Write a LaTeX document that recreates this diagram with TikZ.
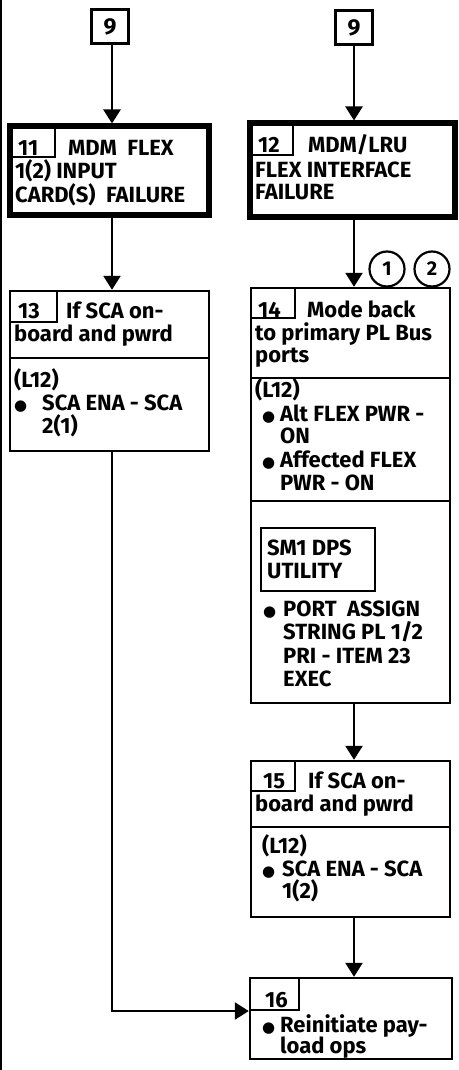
\documentclass[tikz,border=0pt]{standalone}
\usepackage{fontspec}
\setmainfont{Fira Sans}
\newfontfamily\dejavu{DejaVu Sans}
\usetikzlibrary{arrows.meta}
\newcommand\bul{{\dejavu\fontsize{15}{15}\selectfont ●}}
\begin{document}
\begin{tikzpicture}[x=1pt,y=-1pt,
  thinbox/.style={draw, line width=2.4pt, inner sep=0pt},
  thickbox/.style={draw, line width=6pt, inner sep=0pt},
  numline/.style={line width=1.8pt},
  divline/.style={line width=2.4pt},
  txt/.style={anchor=base west, inner sep=0pt, font=\fontsize{22}{23}\selectfont\bfseries},
  bultxt/.style={anchor=base west, inner sep=0pt},
  flow/.style={line width=2.4pt, -{Triangle[length=14pt,width=17pt]}},
  circ/.style={draw, circle, line width=2.2pt, minimum size=35pt, inner sep=0pt, font=\fontsize{20}{20}\selectfont\bfseries},
  refbox/.style={draw, line width=3.4pt, inner sep=0pt, minimum width=37pt, minimum height=34pt, font=\fontsize{23}{23}\selectfont\bfseries},
]
\useasboundingbox (0,0) rectangle (458,1070);
\draw[line width=2pt] (1,0) -- (1,1070);

\coordinate (colL) at (112,0);
\coordinate (colR) at (354,0);

% reference boxes
\node[refbox] (n9L) at (110,26.5) {9};
\node[refbox] (n9R) at (354,27.5) {9};

% main boxes
\node[thickbox, minimum width=199pt, minimum height=88.5pt] (b11) at (109.5,170.75) {};
\node[thickbox, minimum width=205pt, minimum height=93.5pt] (b12) at (352.5,170.25) {};
\node[thinbox, minimum width=199pt, minimum height=160pt] (b13) at (109.5,371) {};
\node[thinbox, minimum width=199pt, minimum height=415pt] (b14) at (350.5,495.5) {};
\node[thinbox, minimum width=114pt, minimum height=63pt] (sm1) at (318,559.5) {};
\node[thinbox, minimum width=199pt, minimum height=156pt] (b15) at (350.5,839) {};
\node[thinbox, minimum width=202pt, minimum height=81pt] (b16) at (351,1018.5) {};

% connector circles
\node[circ] (c1) at (387,269) {1};
\node[circ] (c2) at (432,269) {2};

% number boxes and dividers
\draw[numline] (55,126.5) -- (55,157) -- (12,157);
\draw[numline] (293,123.5) -- (293,155) -- (252,155);
\draw[numline] (57,291) -- (57,322) -- (11,322);
\draw[numline] (295,288) -- (295,318) -- (252,318);
\draw[numline] (295,761) -- (295,791) -- (252,791);
\draw[numline] (299,978) -- (299,1010) -- (251,1010);
\draw[divline] (b13.west |- 0,358) -- (b13.east |- 0,358);
\draw[divline] (b14.west |- 0,378) -- (b14.east |- 0,378);
\draw[divline] (b14.west |- 0,501) -- (b14.east |- 0,501);
\draw[divline] (b15.west |- 0,827) -- (b15.east |- 0,827);

% connectors
\draw[flow] (n9L.south -| colL) -- (b11.north -| colL);
\draw[flow] (n9R.south -| colR) -- (b12.north -| colR);
\draw[flow] (b11.south -| colL) -- (b13.north -| colL);
\draw[flow] (b12.south -| colR) -- (b14.north -| colR);
\draw[flow] (b14.south -| colR) -- (b15.north -| colR);
\draw[flow] (b15.south -| colR) -- (b16.north -| colR);
\coordinate (j) at (112,1011);
\draw[flow] (b13.south -| colL) -- (j) -- (j -| b16.west);

% texts box 11
\node[txt] (t11a) at (18,155) {11};
\node[txt] (t11b) at (68,155) {MDM\ \ FLEX};
\node[txt] (t11c) at (15,178) {1(2) INPUT};
\node[txt] (t11d) at (15,202) {CARD(S)\ \ FAILURE};
% box 12
\node[txt] (t12a) at (258,153) {12};
\node[txt] (t12b) at (308,153) {MDM/LRU};
\node[txt] (t12c) at (255,177) {FLEX INTERFACE};
\node[txt] (t12d) at (255,199) {FAILURE};
% box 13
\node[txt] (t13a) at (18,318) {13};
\node[txt] (t13b) at (66,318) {If SCA on-};
\node[txt] (t13c) at (14,341) {board and pwrd};
\node[txt] (t13d) at (14,387) {(L12)};
\node[bultxt] (t13e) at (14,410) {\bul};
\node[txt] (t13f) at (42,410) {SCA ENA - SCA};
\node[txt] (t13g) at (42,433) {2(1)};
% box 14
\node[txt] (t14a) at (258,317) {14};
\node[txt] (t14b) at (307,317) {Mode back};
\node[txt] (t14c) at (255,340) {to primary PL Bus};
\node[txt] (t14d) at (255,362) {ports};
\node[txt] (t14e) at (255,397) {(L12)};
\node[bultxt] (t14f) at (262,421) {\bul};
\node[txt] (t14g) at (280,421) {Alt FLEX PWR -};
\node[txt] (t14h) at (280,443) {ON};
\node[bultxt] (t14i) at (262,467) {\bul};
\node[txt] (t14j) at (280,467) {Affected FLEX};
\node[txt] (t14k) at (280,490) {PWR - ON};
\node[txt] (t14l) at (267,555) {SM1 DPS};
\node[txt] (t14m) at (267,578) {UTILITY};
\node[bultxt] (t14n) at (263,616) {\bul};
\node[txt] (t14o) at (283,616) {PORT\ \ ASSIGN};
\node[txt] (t14p) at (283,639) {STRING PL 1/2};
\node[txt] (t14q) at (283,663) {PRI - ITEM 23};
\node[txt] (t14r) at (283,686) {EXEC};
% box 15
\node[txt] (t15a) at (263,788) {15};
\node[txt] (t15b) at (308,788) {If SCA on-};
\node[txt] (t15c) at (255,811) {board and pwrd};
\node[txt] (t15d) at (262,853) {(L12)};
\node[bultxt] (t15e) at (262,876) {\bul};
\node[txt] (t15f) at (282,876) {SCA ENA - SCA};
\node[txt] (t15g) at (282,898) {1(2)};
% box 16
\node[txt] (t16a) at (265,1007) {16};
\node[bultxt] (t16b) at (262,1032) {\bul};
\node[txt] (t16c) at (280,1032) {Reinitiate pay-};
\node[txt] (t16d) at (280,1053) {load ops};
\end{tikzpicture}
\end{document}
